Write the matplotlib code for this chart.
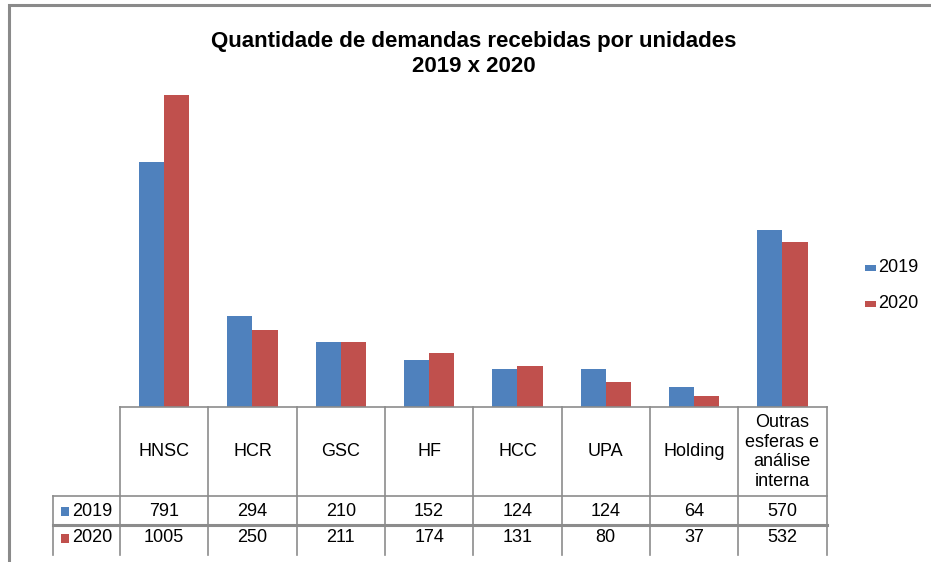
import matplotlib
matplotlib.use("Agg")
import matplotlib.pyplot as plt
from matplotlib.patches import Rectangle

plt.rcParams['font.family'] = ['Liberation Sans', 'DejaVu Sans']

# dados
categorias = ["HNSC", "HCR", "GSC", "HF", "HCC", "UPA", "Holding",
              "Outras\nesferas e\nanálise\ninterna"]
anos = ["2019", "2020"]
v2019 = [791, 294, 210, 152, 124, 124, 64, 570]
v2020 = [1005, 250, 211, 174, 131, 80, 37, 532]
cores = ["#4F81BD", "#C0504D"]

W, H = 931, 562
fig = plt.figure(figsize=(W / 100, H / 100), dpi=100)

# area do grafico (pixels)
x0, x1 = 120, 826.5
ytop, ybase = 35, 407
ax = fig.add_axes([x0 / W, 1 - ybase / H, (x1 - x0) / W, (ybase - ytop) / H])
n = len(categorias)
larg = 0.285
xs = [i + 0.5 for i in range(n)]
ax.bar([x - larg / 2 for x in xs], v2019, width=larg, color=cores[0], zorder=3)
ax.bar([x + larg / 2 for x in xs], v2020, width=larg, color=cores[1], zorder=3)
ax.set_xlim(0, n)
ax.set_ylim(0, 1200)
ax.axis('off')

# camada em pixels para tabela, titulo, legenda e borda
ov = fig.add_axes([0, 0, 1, 1], zorder=5)
ov.set_xlim(0, W)
ov.set_ylim(H, 0)
ov.axis('off')
ov.patch.set_alpha(0)

cinza = "#8C8C8C"
# borda externa
ov.plot([9, 9, W + 5], [H + 5, 5, 5], color="#8A8A8A", lw=2.2, solid_joinstyle='miter')

# titulo
ov.text(474, 41, "Quantidade de demandas recebidas por unidades", ha='center', va='center',
        fontsize=16, fontweight='bold')
ov.text(474, 67, "2019 x 2020", ha='center', va='center', fontsize=16, fontweight='bold')

# tabela
cw = (x1 - x0) / n
y_cab, y_r1, y_r2, y_fim = 407, 496, 525, 555
xl = 53
for i in range(n + 1):
    ov.plot([x0 + i * cw] * 2, [y_cab, y_fim], color=cinza, lw=1.2)
ov.plot([xl, xl], [y_r1, y_fim], color=cinza, lw=1.2)
ov.plot([x0, x1], [y_cab, y_cab], color=cinza, lw=1.2)
ov.plot([xl, x1], [y_r1, y_r1], color=cinza, lw=1.2)
ov.plot([xl, x1], [y_r2, y_r2], color=cinza, lw=2.2)

for i, c in enumerate(categorias):
    ov.text(x0 + (i + 0.5) * cw, (y_cab + y_r1) / 2 + 0.5, c, ha='center', va='center',
            fontsize=13, linespacing=1.2)

linhas = [(v2019, (y_r1 + y_r2) / 2 + 1), (v2020, (y_r2 + y_fim) / 2 - 2)]
for k, (vals, yc) in enumerate(linhas):
    ov.add_patch(Rectangle((61, yc - 4.5), 7.5, 9, color=cores[k], lw=0))
    ov.text(72, yc, anos[k], ha='left', va='center', fontsize=13)
    for i, v in enumerate(vals):
        ov.text(x0 + (i + 0.5) * cw, yc, str(v), ha='center', va='center', fontsize=13)

# legenda
for k, yl in enumerate([268, 304]):
    ov.add_patch(Rectangle((865, yl - 3), 11, 6, color=cores[k], lw=0))
    ov.text(878, yl, anos[k], ha='left', va='center', fontsize=13)

fig.savefig("out.png", dpi=100, facecolor='white')
